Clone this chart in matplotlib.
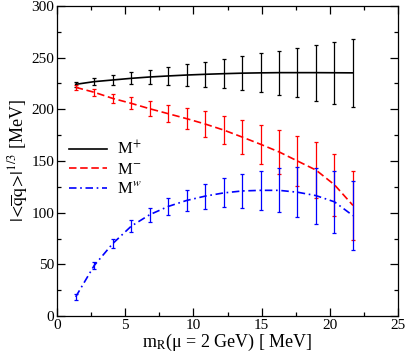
import matplotlib
matplotlib.use("Agg")
import matplotlib.pyplot as plt
from matplotlib.ticker import MultipleLocator
from matplotlib.lines import Line2D

plt.rcParams["font.family"] = ["Liberation Serif", "DejaVu Serif"]
plt.rcParams["mathtext.fontset"] = "stix"

# ----- Data -----
m_r = [1.37, 2.73, 4.08, 5.44, 6.79, 8.15, 9.50, 10.86,
       12.21, 13.57, 14.92, 16.28, 17.63, 18.99, 20.34, 21.70]

m_plus = [224.2, 226.8, 228.4, 230.0, 231.3, 232.3, 233.2, 233.9,
          234.5, 235.0, 235.3, 235.5, 235.5, 235.5, 235.4, 235.3]
m_minus = [221.3, 216.5, 210.6, 205.8, 200.6, 195.8, 191.0, 185.8,
           180.0, 173.2, 166.2, 158.8, 150.0, 141.2, 127.0, 107.0]
m_w = [18.5, 48.9, 70.0, 86.9, 98.0, 106.0, 111.8, 116.0,
       119.1, 121.0, 121.6, 121.6, 119.8, 116.5, 110.5, 97.1]

err = [2.6, 3.4, 4.4, 5.7, 7.0, 8.5, 10.2, 12.2,
       14.0, 16.2, 18.8, 21.3, 24.0, 27.0, 29.8, 33.2]

labels = ["M$^{+}$", "M$^{-}$", "M$^{w}$"]

# ----- Figure -----
W, H = 407, 357
fig = plt.figure(figsize=(W / 100, H / 100), dpi=100)
ax = fig.add_axes([57 / W, (H - 316) / H, 341 / W, 310 / H])

series = [
    (m_plus, "black", "-"),
    (m_minus, "#ff0000", (0, (4.5, 2.2))),
    (m_w, "#0000ff", (0, (4.5, 2.2, 1.0, 2.2))),
]

for vals, col, ls in series:
    ax.errorbar(m_r, vals, yerr=err, fmt="none", ecolor=col,
                elinewidth=0.9, capsize=1.7, capthick=0.9, zorder=2)
    ax.plot(m_r, vals, color=col, linestyle=ls, linewidth=1.2, zorder=3)

ax.set_xlim(0, 25)
ax.set_ylim(0, 300)
ax.xaxis.set_major_locator(MultipleLocator(5))
ax.xaxis.set_minor_locator(MultipleLocator(2.5))
ax.yaxis.set_major_locator(MultipleLocator(50))
ax.yaxis.set_minor_locator(MultipleLocator(25))
ax.tick_params(which="both", direction="in", top=True, right=True,
               labelsize=11, width=0.9, pad=2)
ax.tick_params(which="major", length=6)
ax.tick_params(which="minor", length=3)
for s in ax.spines.values():
    s.set_linewidth(0.9)

ax.set_xlabel("m$_{\\mathrm{R}}$(μ = 2 GeV) [ MeV]", fontsize=13, labelpad=0)
ax.set_ylabel(r"$|\!<\!\overline{\mathrm{q}}\mathrm{q}\!>\!|^{1/3}$ [MeV]",
              fontsize=13, labelpad=1)

handles = [Line2D([], [], color=c, linestyle=ls, linewidth=1.2)
           for _, c, ls in series]
ax.legend(handles, labels, loc="upper left", bbox_to_anchor=(0.0, 0.605),
          frameon=False, fontsize=12, handlelength=2.3, handletextpad=0.6,
          labelspacing=0.2, borderaxespad=0.3)

fig.savefig("out.png", dpi=100)
